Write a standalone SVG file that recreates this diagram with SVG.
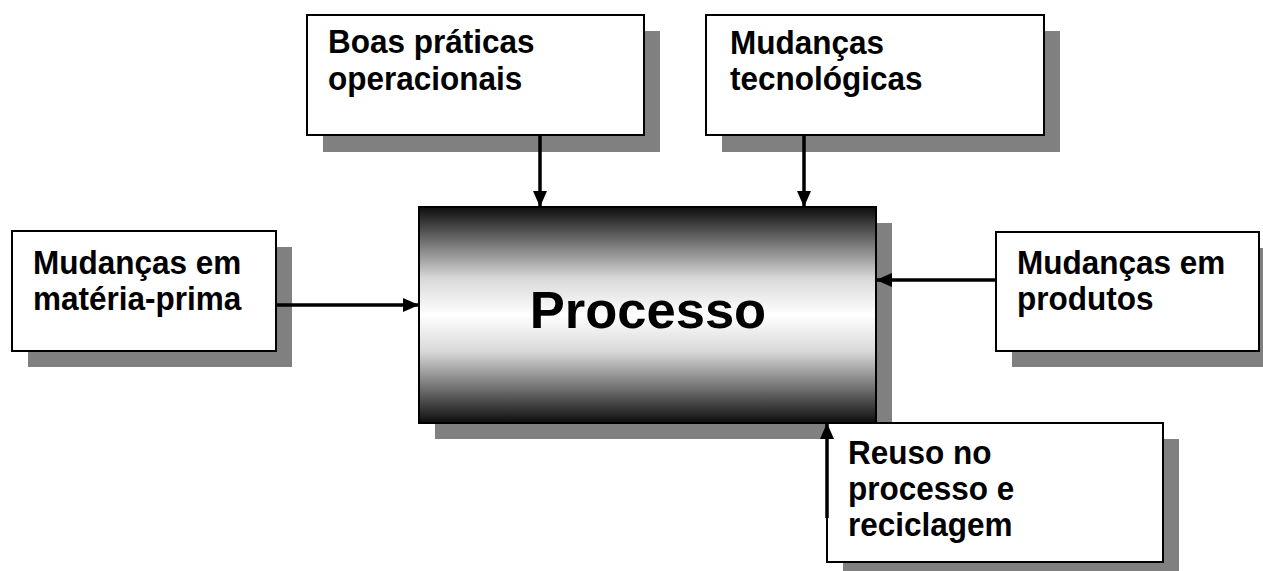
<svg xmlns="http://www.w3.org/2000/svg" width="1263" height="571" viewBox="0 0 1263 571">
<style>
.sh{fill:#808080;}
.bx{fill:#ffffff;stroke:#000;stroke-width:2;}
.t{font-family:"Liberation Sans",Arial,sans-serif;font-weight:bold;font-size:31.5px;fill:#000;}
.big{font-family:"Liberation Sans",Arial,sans-serif;font-weight:bold;font-size:52.5px;fill:#000;}
.c{stroke:#000;stroke-width:3.5;fill:none;}
</style>
<defs>
<linearGradient id="g" x1="0" y1="0" x2="0" y2="1">
<stop offset="0" stop-color="#0d0d0d"/>
<stop offset="0.15" stop-color="#6a6a6a"/>
<stop offset="0.33" stop-color="#d8d8d8"/>
<stop offset="0.5" stop-color="#ffffff"/>
<stop offset="0.67" stop-color="#d8d8d8"/>
<stop offset="0.85" stop-color="#6a6a6a"/>
<stop offset="1" stop-color="#0d0d0d"/>
</linearGradient>
<marker id="ah" markerUnits="userSpaceOnUse" markerWidth="16" markerHeight="16" viewBox="0 0 16 16" refX="16" refY="8" orient="auto">
<path d="M0,1 L16,8 L0,15 Z" fill="#000"/>
</marker>
</defs>
<g id="processo">
<rect class="sh" x="435" y="223" width="457" height="216"/>
<rect x="419" y="207" width="457" height="216" fill="url(#g)" stroke="#000" stroke-width="2"/>
<text class="big" x="648" y="328" text-anchor="middle">Processo</text>
</g>
<g id="boas">
<rect class="sh" x="323" y="31" width="337" height="121"/>
<rect class="bx" x="307" y="15" width="337" height="120"/>
<text class="t" transform="translate(328,53) scale(1,1.08)">Boas práticas</text>
<text class="t" transform="translate(328,90) scale(1,1.08)">operacionais</text>
</g>
<g id="tecnologicas">
<rect class="sh" x="722" y="31" width="338" height="121"/>
<rect class="bx" x="706" y="15" width="338" height="120"/>
<text class="t" transform="translate(730,54) scale(1,1.08)">Mudanças</text>
<text class="t" transform="translate(730,90) scale(1,1.08)">tecnológicas</text>
</g>
<g id="materia">
<rect class="sh" x="28" y="247" width="264" height="120"/>
<rect class="bx" x="12" y="231" width="264" height="120"/>
<text class="t" transform="translate(33,274) scale(1,1.08)">Mudanças em</text>
<text class="t" transform="translate(33,310) scale(1,1.08)">matéria-prima</text>
</g>
<g id="produtos">
<rect class="sh" x="1012" y="248" width="263" height="119"/>
<rect class="bx" x="996" y="232" width="263" height="119"/>
<text class="t" transform="translate(1017,274) scale(1,1.08)">Mudanças em</text>
<text class="t" transform="translate(1017,310) scale(1,1.08)">produtos</text>
</g>
<g id="reuso">
<rect class="sh" x="843" y="439" width="336" height="140"/>
<rect class="bx" x="827" y="423" width="336" height="139"/>
<text class="t" transform="translate(848,464) scale(1,1.08)">Reuso no</text>
<text class="t" transform="translate(848,500) scale(1,1.08)">processo e</text>
<text class="t" transform="translate(848,536) scale(1,1.08)">reciclagem</text>
</g>
<g id="connectors">
<line class="c" x1="540" y1="135" x2="540" y2="207" marker-end="url(#ah)"/>
<line class="c" x1="804" y1="135" x2="804" y2="207" marker-end="url(#ah)"/>
<line class="c" x1="276" y1="305" x2="419" y2="305" marker-end="url(#ah)"/>
<line class="c" x1="996" y1="280" x2="876" y2="280" marker-end="url(#ah)"/>
<line class="c" x1="827" y1="518" x2="827" y2="423" marker-end="url(#ah)"/>
</g>
</svg>
